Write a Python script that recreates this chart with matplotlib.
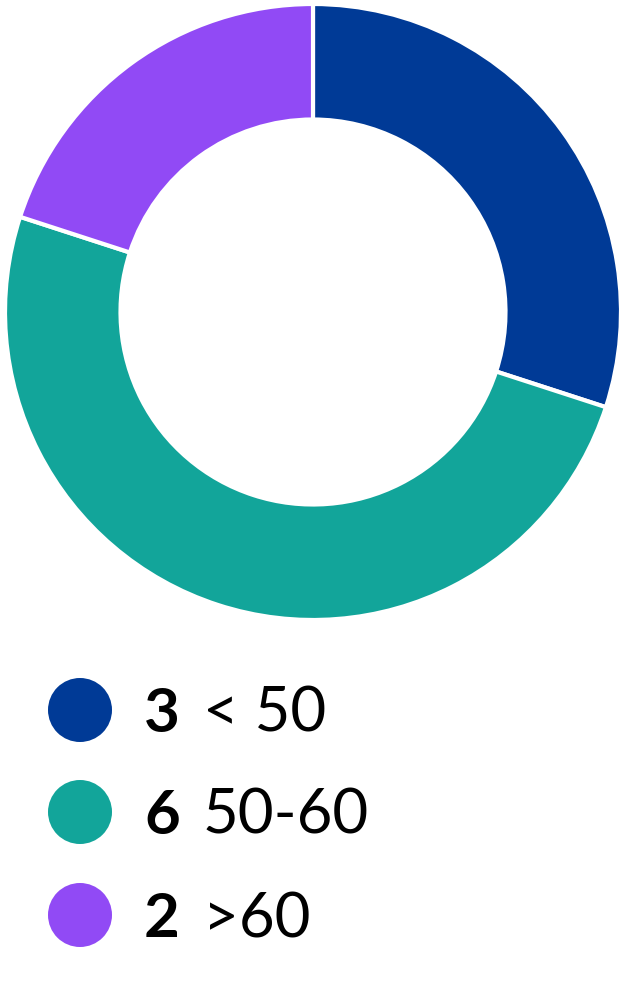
import matplotlib.pyplot as plt
from matplotlib.patches import Circle

# dati
counts = [3, 6, 2]
labels = ['< 50', '50-60', '>60']
shares = [30, 50, 20]  # quote degli spicchi
colors = ['#003A96', '#12A59A', '#914AF5']

plt.rcParams['font.family'] = ['Lato', 'DejaVu Sans']

fig = plt.figure(figsize=(6.24, 9.84), dpi=100)

# ciambella
ax = fig.add_axes([5 / 624, 364 / 984, 616 / 624, 616 / 984])
ax.pie(shares, colors=colors, startangle=90, counterclock=False,
       radius=1, wedgeprops=dict(width=0.375, edgecolor='white', linewidth=3))
ax.set_xlim(-1, 1)
ax.set_ylim(-1, 1)
ax.set_aspect('equal')
ax.axis('off')

# legenda disegnata a mano
lax = fig.add_axes([0, 0, 1, 1])
lax.set_xlim(0, 624)
lax.set_ylim(984, 0)
lax.axis('off')

row_y = [710, 812, 915]
for y, n, lab, c in zip(row_y, counts, labels, colors):
    lax.add_patch(Circle((80, y), 32, color=c, lw=0))
    lax.text(144, y + 22, str(n), fontsize=44.5, fontweight='bold', va='baseline', ha='left')
    lax.text(203, y + 22, lab, fontsize=44.5, va='baseline', ha='left')

fig.savefig('out.png', dpi=100)
